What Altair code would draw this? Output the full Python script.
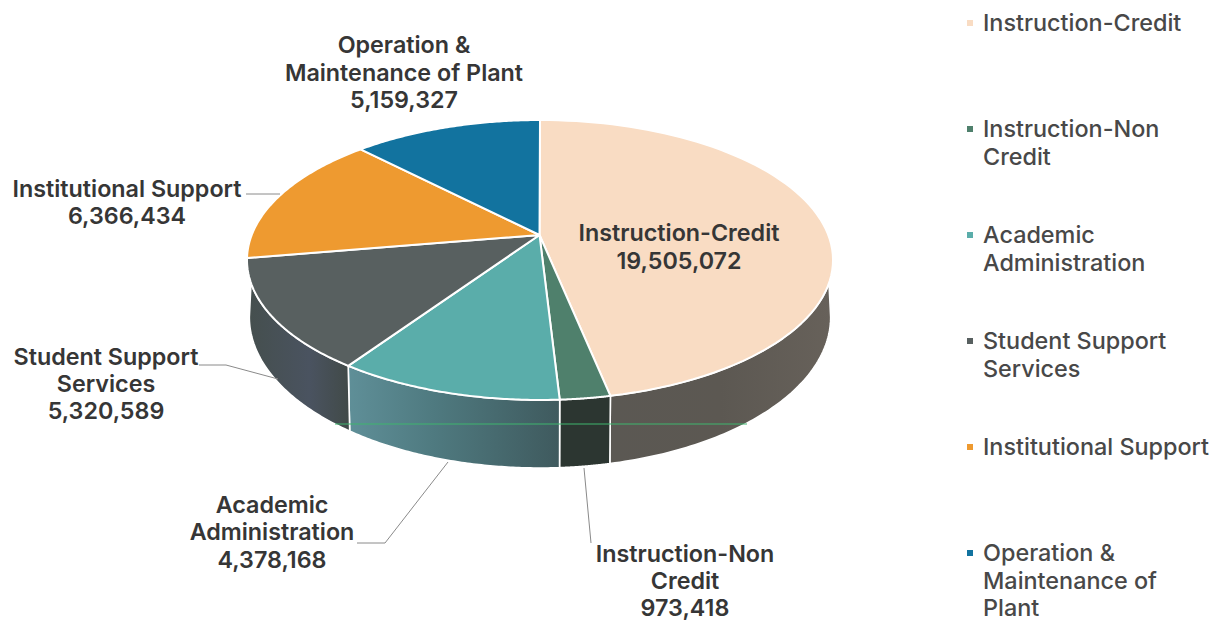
import numpy as np
import pandas as pd
import altair as alt

categories = ["Instruction-Credit", "Instruction-Non Credit", "Academic Administration",
              "Student Support Services", "Institutional Support", "Operation & Maintenance of Plant"]
values = [19505072, 973418, 4378168, 5320589, 6366434, 5159327]
top_colors = ["#f9dcc3", "#4f806c", "#5aadaa", "#586060", "#ee9a30", "#12739f"]
side_stops = [
    [("#5b5853", 0), ("#5c5852", 0.5), ("#67615a", 1)],
    [("#2c3631", 0), ("#2c3631", 1)],
    [("#5f8f98", 0), ("#4f7a80", 0.4), ("#3f5a5e", 1)],
    [("#454f4e", 0), ("#4a5360", 0.6), ("#414a48", 1)],
]

label_lines = [
    (["Instruction-Credit", "19,505,072"], 679, [234, 262]),
    (["Instruction-Non", "Credit", "973,418"], 685, [555, 582, 609]),
    (["Academic", "Administration", "4,378,168"], 272, [506, 533, 561]),
    (["Student Support", "Services", "5,320,589"], 106, [358, 385, 412]),
    (["Institutional Support", "6,366,434"], 127, [190, 217]),
    (["Operation &", "Maintenance of Plant", "5,159,327"], 404, [46, 74, 101]),
]
legend_lines = [
    ["Instruction-Credit"], ["Instruction-Non", "Credit"], ["Academic", "Administration"],
    ["Student Support", "Services"], ["Institutional Support"], ["Operation &", "Maintenance of", "Plant"],
]
legend_y = [24, 130, 236, 342, 448, 554]
marker_y = [23, 129, 235, 341, 447, 553]
leaders = [
    [(584, 468), (591, 543)],
    [(357, 543), (385, 543), (448, 462)],
    [(199, 365), (226, 365), (278, 379)],
    [(246, 194), (280, 194)],
]

XS = alt.Scale(domain=[8, 1220], nice=False, zero=False)
YS = alt.Scale(domain=[621, 8], nice=False, zero=False)
K = 0.1786


def disc(theta, cx, cy, rx, sy):
    u, v = np.sin(theta), np.cos(theta)
    w = 1 + K * v
    return cx + rx * u / w, cy - sy * v / w


def shape(xs, ys, stroke="#ffffff", sw=2.0, fill=None):
    d = pd.DataFrame({"x": np.round(xs, 2), "y": np.round(ys, 2), "i": range(len(xs))})
    return alt.Chart(d).mark_line(fill=fill, stroke=stroke, strokeWidth=sw, strokeJoin="round").encode(
        x=alt.X("x:Q", scale=XS, axis=None),
        y=alt.Y("y:Q", scale=YS, axis=None),
        order="i:Q",
    )


def words(rows, **kw):
    d = pd.DataFrame(rows, columns=["x", "y", "t"])
    return alt.Chart(d).mark_text(font="Inter", baseline="middle", **kw).encode(
        x=alt.X("x:Q", scale=XS, axis=None),
        y=alt.Y("y:Q", scale=YS, axis=None),
        text="t:N",
    )


fr = np.array(values) / sum(values)
edges = np.concatenate([[0], np.cumsum(fr)]) * 2 * np.pi
layers = []

top_vis = np.radians([109.5, 250.5])
bot_vis = np.radians([100.3, 259.7])

for i in range(4):
    a_t = np.linspace(max(edges[i], top_vis[0]), min(edges[i + 1], top_vis[1]), 80)
    a_b = np.linspace(max(edges[i], bot_vis[0]), min(edges[i + 1], bot_vis[1]), 80)
    tx, ty = disc(a_t, 540, 235, 288.3, 135.5)
    bx, by = disc(a_b[::-1], 540, 290, 286, 146.2)
    xs = np.concatenate([tx, bx, tx[:1]])
    ys = np.concatenate([ty, by, ty[:1]])
    grad = alt.LinearGradient(
        gradient="linear", x1=0, x2=1, y1=0, y2=0,
        stops=[alt.GradientStop(color=c, offset=o) for c, o in side_stops[i]],
    )
    layers.append(shape(xs, ys, sw=1.6, fill=grad))

for i in range(6):
    th = np.linspace(edges[i], edges[i + 1], 80)
    tx, ty = disc(th, 540, 235, 288.3, 135.5)
    xs = np.concatenate([[539.5], tx, [539.5]])
    ys = np.concatenate([[235], ty, [235]])
    layers.append(shape(xs, ys, sw=2.0, fill=top_colors[i]))

# scan artefacts
layers.append(shape([335, 747], [424, 424], stroke="#3fb56e", sw=1))
layers.append(shape([418, 421, 426], [0, 5, 7], stroke="#d4608c", sw=1))

for pts in leaders:
    layers.append(shape([p[0] for p in pts], [p[1] for p in pts], stroke="#8a8a8a", sw=1))

rows = []
for lines, cx, ys in label_lines:
    rows += [(cx, y, t) for t, y in zip(lines, ys)]
layers.append(words(rows, align="center", fontSize=23.3, fontWeight=600, color="#363636"))

rows = []
for lines, y0 in zip(legend_lines, legend_y):
    rows += [(983, y0 + 28 * j - (j == 2), t) for j, t in enumerate(lines)]
layers.append(words(rows, align="left", fontSize=23.4, fontWeight=500, color="#484848"))

mk = pd.DataFrame({"x": [970] * 6, "y": marker_y, "c": categories})
layers.append(alt.Chart(mk).mark_square(size=36, opacity=1).encode(
    x=alt.X("x:Q", scale=XS, axis=None),
    y=alt.Y("y:Q", scale=YS, axis=None),
    color=alt.Color("c:N", scale=alt.Scale(domain=categories, range=top_colors), legend=None),
))

chart = alt.layer(*layers).properties(
    width=1212, height=613, padding=0, autosize=alt.AutoSizeParams(type="none"),
).configure_view(stroke=None)

chart.save("out.html", embed_options={"renderer": "svg", "actions": False})
